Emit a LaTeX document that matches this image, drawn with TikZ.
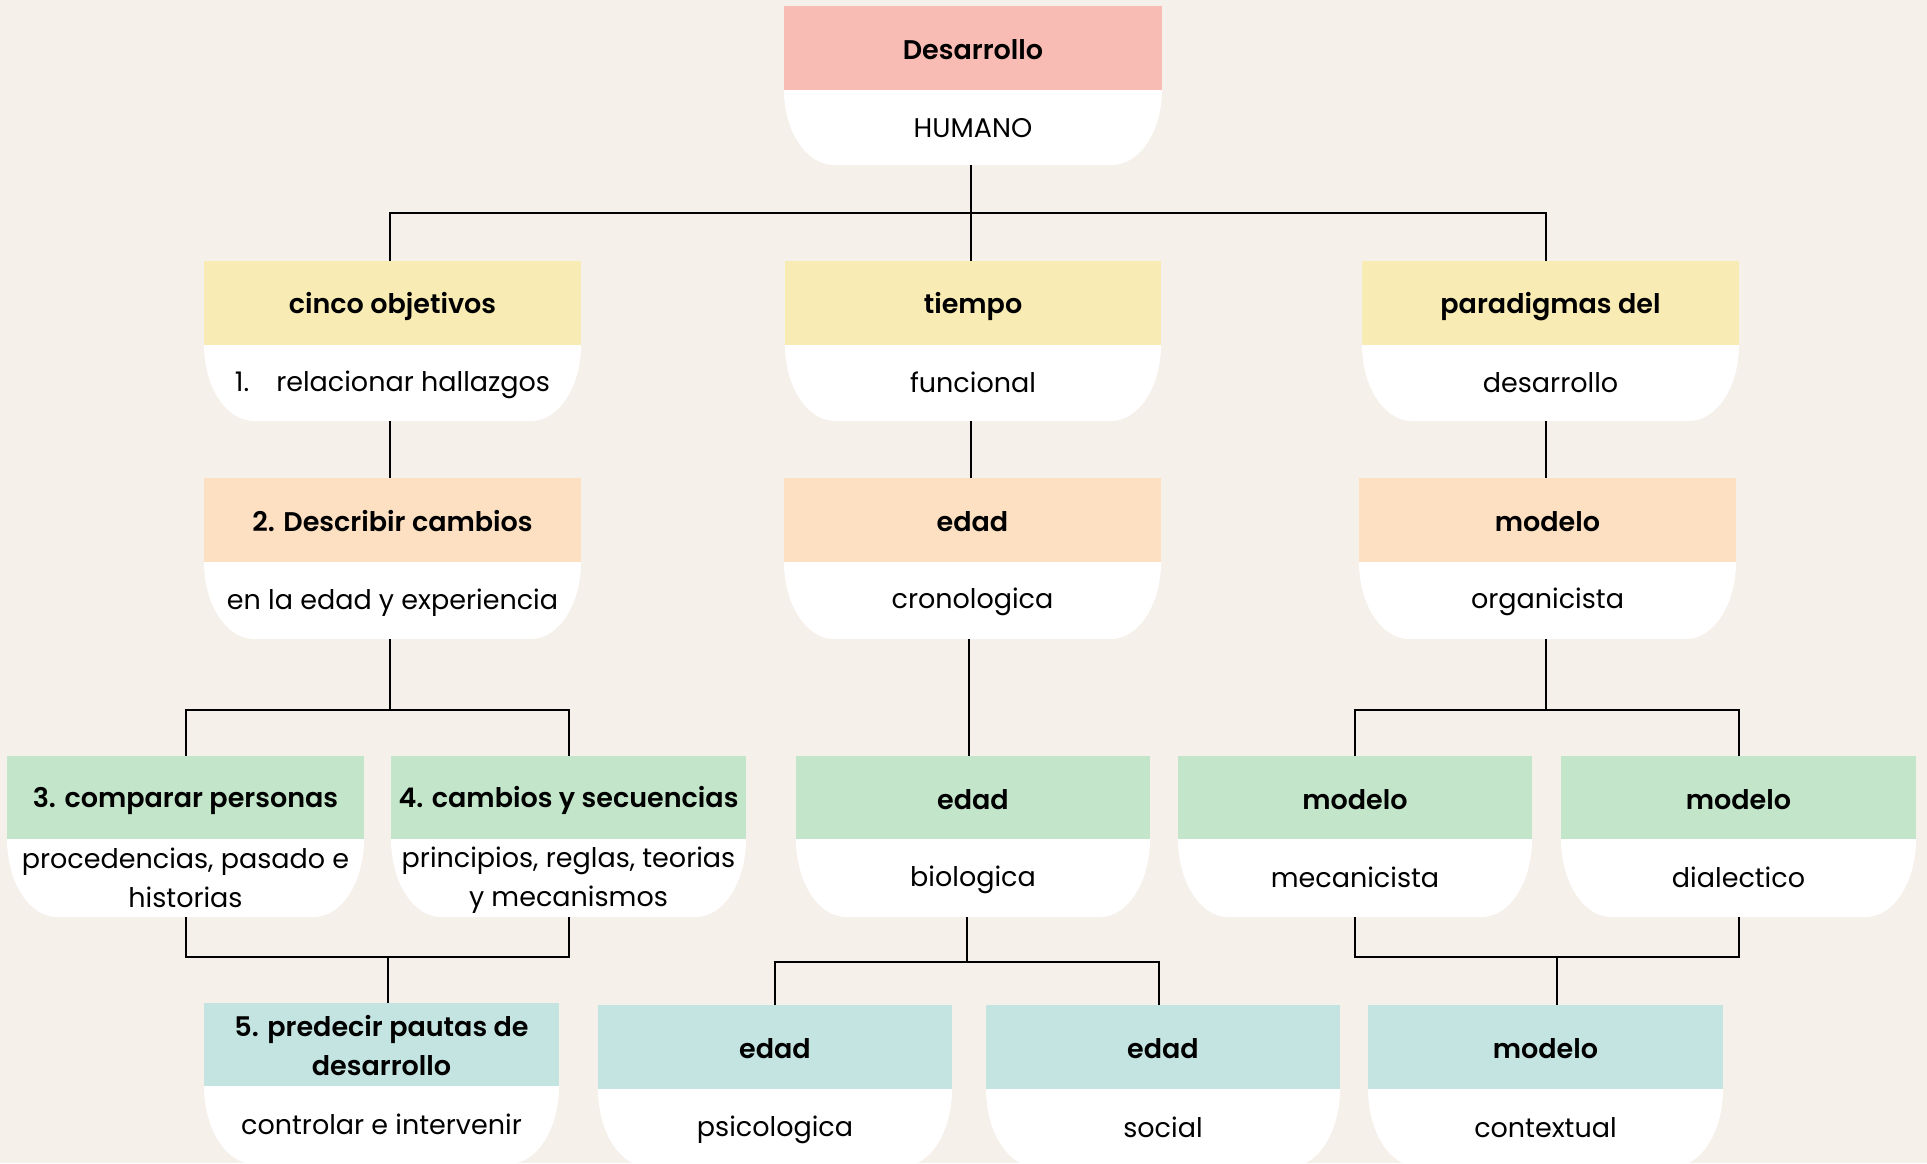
\documentclass[tikz,border=0pt]{standalone}
\usepackage{fontspec}
\setmainfont{Poppins}[BoldFont={Poppins SemiBold}]
\usetikzlibrary{fit}
\definecolor{bg}{HTML}{F5F0EA}
\definecolor{cpink}{HTML}{F9BCB5}
\definecolor{cyellow}{HTML}{F8ECB4}
\definecolor{cpeach}{HTML}{FCE0C1}
\definecolor{cgreen}{HTML}{C3E5CA}
\definecolor{cteal}{HTML}{C3E4E1}
\newcommand\Sx{\rule[-5pt]{0pt}{29pt}}
\tikzset{
  conn/.style={draw=black, line width=2pt},
  headtxt/.style={font=\fontsize{27}{39}\selectfont\bfseries, align=center, inner sep=0pt},
  bodytxt/.style={font=\fontsize{27}{39}\selectfont, align=center, inner sep=0pt},
  boxarea/.style={inner sep=0pt, draw=none}
}
% #1 name, #2 x left, #3 x right, #4 y top, #5 y mid, #6 y bottom, #7 colour, #8 header, #9 body
\newcommand\card[9]{%
  \fill[#7] (#2,#4) rectangle (#3,#5);
  \fill[white] (#2,#5) -- (#3,#5)
    .. controls (#3,{#5+0.552*(#6-#5)}) and ({#3-50+0.552*50},#6) .. ({#3-50},#6)
    -- ({#2+50},#6)
    .. controls ({#2+50-0.552*50},#6) and (#2,{#5+0.552*(#6-#5)}) .. (#2,#5) -- cycle;
  \node[fit={(#2,#4) (#3,#6)}, boxarea] (#1) {};
  \node[headtxt] (#1-h) at ({(#2+#3)/2},{(#4+#5)/2+2}) {\Sx#8};
  \node[bodytxt] (#1-b) at ({(#2+#3)/2},{(#5+#6)/2}) {\Sx#9};
}
\begin{document}
\begin{tikzpicture}[x=1pt,y=-1pt]
\useasboundingbox (0,0) rectangle (1927,1163);
\clip (0,0) rectangle (1927,1163);
\fill[bg] (0,0) rectangle (1927,1163);

\card{desa}{784}{1162}{6}{90}{165}{cpink}{Desarrollo}{HUMANO}

\card{cinco}{204}{581}{261}{345}{421}{cyellow}{cinco objetivos}{1.\hspace{1em}relacionar hallazgos}
\card{tiempo}{785}{1161}{261}{345}{421}{cyellow}{tiempo}{funcional}
\card{para}{1362}{1739}{261}{345}{421}{cyellow}{paradigmas del}{desarrollo}

\card{desc}{204}{581}{478}{562}{639}{cpeach}{2. Describir cambios}{en la edad y experiencia}
\card{cron}{784}{1161}{478}{562}{639}{cpeach}{edad}{cronologica}
\card{orga}{1359}{1736}{478}{562}{639}{cpeach}{modelo}{organicista}

\card{comp}{7}{364}{756}{839}{917}{cgreen}{3. comparar personas}{procedencias, pasado e\\\Sx historias}
\card{camb}{391}{746}{756}{839}{917}{cgreen}{4. cambios y secuencias}{principios, reglas, teorias\\\Sx y mecanismos}
\card{bio}{796}{1150}{756}{839}{917}{cgreen}{edad}{biologica}
\card{meca}{1178}{1532}{756}{839}{917}{cgreen}{modelo}{mecanicista}
\card{dial}{1561}{1916}{756}{839}{917}{cgreen}{modelo}{dialectico}

\card{pred}{204}{559}{1003}{1086}{1164}{cteal}{5. predecir pautas de\\\Sx desarrollo}{controlar e intervenir}
\card{psico}{598}{952}{1005}{1089}{1167}{cteal}{edad}{psicologica}
\card{soc}{986}{1340}{1005}{1089}{1167}{cteal}{edad}{social}
\card{ctx}{1368}{1723}{1005}{1089}{1167}{cteal}{modelo}{contextual}

% connector anchor coordinates
\coordinate (xl) at (390,0);
\coordinate (xm) at (971,213);
\coordinate (xr) at (1546,0);
\coordinate (b2) at (390,710);
\coordinate (b3) at (1546,710);
\coordinate (b4) at (388,957);
\coordinate (b5) at (967,962);
\coordinate (b6) at (1557,957);
\coordinate (xs) at (1159,0);
\coordinate (xc) at (969,0);

\draw[conn] (xm |- desa.south) -- (xm |- tiempo.north);
\draw[conn] (xl |- cinco.north) |- (xm) -| (xr |- para.north);
\draw[conn] (xl |- cinco.south) -- (xl |- desc.north);
\draw[conn] (xm |- tiempo.south) -- (xm |- cron.north);
\draw[conn] (xr |- para.south) -- (xr |- orga.north);
\draw[conn] (b2 |- desc.south) -- (b2);
\draw[conn] (comp.north) |- (b2) -| (camb.north);
\draw[conn] (xc |- cron.south) -- (xc |- bio.north);
\draw[conn] (b3 |- orga.south) -- (b3);
\draw[conn] (meca.north) |- (b3) -| (dial.north);
\draw[conn] (comp.south) |- (b4) -| (camb.south);
\draw[conn] (b4) -- (b4 |- pred.north);
\draw[conn] (b5 |- bio.south) -- (b5);
\draw[conn] (psico.north) |- (b5) -| (xs |- soc.north);
\draw[conn] (meca.south) |- (b6) -| (dial.south);
\draw[conn] (b6) -- (b6 |- ctx.north);
\end{tikzpicture}
\end{document}
